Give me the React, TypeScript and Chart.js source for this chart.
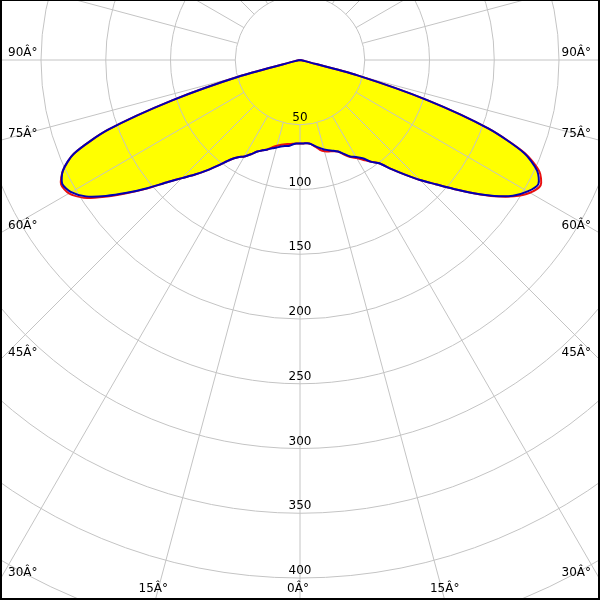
import React, { useEffect, useRef } from "react";
import { Chart, registerables } from "chart.js";

Chart.register(...registerables);

// Gamma angles (degrees from nadir) for each half-plane
const gammaAngles = [
  0, 2.5, 5, 7.5, 10, 12.5, 15, 17.5, 20, 22.5, 25, 27.5, 30, 32.5, 35, 37.5, 40, 42.5, 45,
  47.5, 50, 52.5, 55, 57.5, 60, 62.5, 65, 67.5, 70, 72.5, 75, 77.5, 80, 82.5, 85, 87.5, 90,
];

// Blue curve (C90 - C270)
const blueLeft = [
  64.5, 64.5, 65.5, 67, 67.5, 68.5, 70, 71.5, 73.5, 75.5, 78, 82, 86, 89, 94, 102, 111, 120,
  129, 140, 154, 168.5, 183, 196, 204, 207, 202, 189, 158, 103, 47, 4, 0, 0, 0, 0, 0,
];
const blueRight = [
  64.5, 64.5, 64.5, 65.5, 67.5, 69.5, 71.5, 73, 74.5, 76.5, 80, 84, 86.5, 90, 96, 100.5, 110,
  120, 131, 142, 155, 169, 183, 195, 203, 207.5, 202, 187, 155, 103, 46, 4, 0, 0, 0, 0, 0,
];

// Red curve (C0 - C180)
const redLeft = [
  64.5, 64.5, 65, 65.5, 66, 67, 68.5, 70.5, 73.5, 75.5, 78, 82, 86, 89, 94, 102, 111, 120,
  129, 140, 154.5, 169, 184, 198, 206, 208, 202, 189, 158, 103, 47, 4, 0, 0, 0, 0, 0,
];
const redRight = [
  64.5, 64.5, 64.5, 65.5, 68, 71, 73, 74, 75, 76.5, 80.5, 84.5, 87.5, 91.5, 96, 100.5, 110,
  120, 131, 142, 155, 169, 183.5, 196, 205, 209.5, 204, 188, 155, 103, 46, 4, 0, 0, 0, 0, 0,
];

// Grid
const radialGrid = [50, 100, 150, 200, 250, 300, 350, 400, 450, 500];
const radialTickLabels = [50, 100, 150, 200, 250, 300, 350, 400];
const spokeAngles = [0, 15, 30, 45, 60, 75, 90, 105, 120, 135, 150, 165, 180, 195, 210, 225, 240, 255, 270, 285, 300, 315, 330, 345];
const angleTickLabels = [90, 75, 60, 45, 30, 15, 0];
const degreeSuffix = "Â°";

const PX_PER_UNIT = 1.295;
const SPOKE_END = 600;

function toPoints(left: number[], right: number[]) {
  const pts: { x: number; y: number }[] = [];
  for (let i = gammaAngles.length - 1; i >= 0; i--) {
    const a = (gammaAngles[i] * Math.PI) / 180;
    pts.push({ x: -left[i] * Math.sin(a), y: -left[i] * Math.cos(a) });
  }
  for (let i = 1; i < gammaAngles.length; i++) {
    const a = (gammaAngles[i] * Math.PI) / 180;
    pts.push({ x: right[i] * Math.sin(a), y: -right[i] * Math.cos(a) });
  }
  return pts;
}

const gridPlugin = {
  id: "polarGrid",
  afterDatasetDraw(chart: any, args: any) {
    if (args.index !== 2) return;
    const ctx = chart.ctx as CanvasRenderingContext2D;
    const xs = chart.scales.x;
    const ys = chart.scales.y;
    const cx = xs.getPixelForValue(0);
    const cy = ys.getPixelForValue(0);
    const ppu = xs.getPixelForValue(1) - cx;
    ctx.save();
    ctx.strokeStyle = "#c4c4c4";
    ctx.lineWidth = 1;
    for (const a of spokeAngles) {
      const rad = (a * Math.PI) / 180;
      const r0 = radialGrid[0];
      ctx.beginPath();
      ctx.moveTo(xs.getPixelForValue(r0 * Math.sin(rad)), ys.getPixelForValue(-r0 * Math.cos(rad)));
      ctx.lineTo(xs.getPixelForValue(SPOKE_END * Math.sin(rad)), ys.getPixelForValue(-SPOKE_END * Math.cos(rad)));
      ctx.stroke();
    }
    for (const r of radialGrid) {
      ctx.beginPath();
      ctx.arc(cx, cy, r * ppu, 0, Math.PI * 2);
      ctx.stroke();
    }
    ctx.restore();
  },
  afterDraw(chart: any) {
    const ctx = chart.ctx as CanvasRenderingContext2D;
    const xs = chart.scales.x;
    const ys = chart.scales.y;
    const area = chart.chartArea;
    const cx = xs.getPixelForValue(0);
    const cy = ys.getPixelForValue(0);
    ctx.save();
    ctx.fillStyle = "#000000";
    ctx.font = "12px 'DejaVu Sans'";
    ctx.textBaseline = "middle";
    // radial labels
    ctx.textAlign = "center";
    for (const v of radialTickLabels) {
      ctx.fillText(String(v), cx, ys.getPixelForValue(-v) - 7);
    }
    // angle labels
    for (const a of angleTickLabels) {
      const rad = (a * Math.PI) / 180;
      const s = Math.sin(rad);
      const c = Math.cos(rad);
      const tx = s > 1e-6 ? (cx - area.left) / s : Infinity;
      const ty = c > 1e-6 ? (area.bottom - cy) / c : Infinity;
      const text = a + degreeSuffix;
      if (tx <= ty) {
        const y = cy + tx * c - 7;
        ctx.textAlign = "left";
        ctx.fillText(text, area.left + 8, y);
        ctx.textAlign = "right";
        ctx.fillText(text, area.right - 9, y);
      } else {
        const dx = ty * s;
        ctx.textAlign = "center";
        ctx.fillText(text, cx - dx - 2, area.bottom - 11);
        if (a !== 0) ctx.fillText(text, cx + dx, area.bottom - 11);
      }
    }
    // frame
    ctx.fillRect(0, 0, chart.width, 1);
    ctx.fillRect(0, 0, 2, chart.height);
    ctx.fillRect(chart.width - 2, 0, 2, chart.height);
    ctx.fillRect(0, chart.height - 2, chart.width, 2);
    ctx.restore();
  },
};

export default function App() {
  const ref = useRef<HTMLCanvasElement>(null);
  useEffect(() => {
    document.body.style.margin = "0";
    const blue = toPoints(blueLeft, blueRight);
    const red = toPoints(redLeft, redRight);
    const chart = new Chart(ref.current!, {
      type: "scatter",
      data: {
        datasets: [
          {
            data: blue,
            showLine: true,
            borderColor: "#0000b4",
            borderWidth: 2,
            pointRadius: 0,
            tension: 0.25,
            fill: false,
          },
          {
            data: red,
            showLine: true,
            borderColor: "#e81010",
            borderWidth: 2,
            pointRadius: 0,
            tension: 0.25,
            fill: false,
          },
          {
            data: blue,
            showLine: true,
            borderColor: "rgba(0,0,0,0)",
            borderWidth: 0,
            backgroundColor: "#ffff00",
            pointRadius: 0,
            tension: 0.25,
            fill: "shape",
          },
        ],
      } as any,
      options: {
        animation: false,
        responsive: false,
        maintainAspectRatio: false,
        layout: { padding: 0 },
        plugins: { legend: { display: false }, tooltip: { enabled: false }, title: { display: false } },
        events: [],
        scales: {
          x: { type: "linear", display: false, min: -300 / PX_PER_UNIT, max: 300 / PX_PER_UNIT },
          y: { type: "linear", display: false, min: -540 / PX_PER_UNIT, max: 60 / PX_PER_UNIT },
        },
      } as any,
      plugins: [gridPlugin],
    });
    return () => chart.destroy();
  }, []);
  return (
    <div style={{ position: "absolute", left: 0, top: 0, width: 600, height: 600, background: "#ffffff" }}>
      <canvas ref={ref} width={600} height={600} style={{ display: "block" }} />
    </div>
  );
}
